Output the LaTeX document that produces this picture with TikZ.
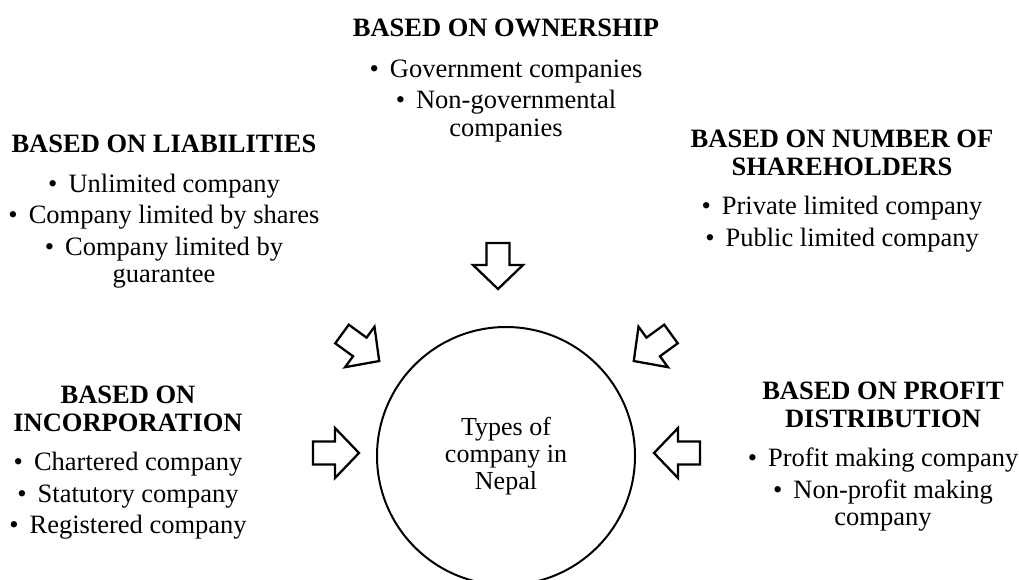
\documentclass[tikz,border=0pt]{standalone}
\usepackage{fontspec}
\setmainfont{Liberation Serif}
\newcommand\itembul{\textbullet\hspace{11pt}}
\begin{document}
\begin{tikzpicture}[x=1pt,y=-1pt]
\tikzset{
  lbl/.style={align=center, inner sep=0pt, anchor=north, font=\fontsize{26.5}{27.5}\selectfont},
  hub/.style={circle, draw, line width=2pt, minimum size=258pt, inner sep=0pt, align=center, font=\fontsize{26}{27}\selectfont},
  fatarrow/.pic={\draw[line width=2.3pt, line join=miter, fill=white] (0,-11.5) -- (22,-11.5) -- (22,-25) -- (46,0) -- (22,25) -- (22,11.5) -- (0,11.5) -- cycle;}
}
\useasboundingbox (0,0) rectangle (1019,579);
\node[hub] (hub) at (506,456) {Types of\\company in\\Nepal};
\node[lbl] (own) at (506,19) {\textbf{BASED ON OWNERSHIP}\\[13pt]\itembul Government companies\\[4pt]\itembul Non-governmental\\companies};
\node[lbl] (lia) at (164,135) {\textbf{BASED ON LIABILITIES}\\[12pt]\itembul Unlimited company\\[4pt]\itembul Company limited by shares\\[4pt]\itembul Company limited by\\guarantee};
\node[lbl] (sha) at (842,130) {\textbf{BASED ON NUMBER OF}\\\textbf{SHAREHOLDERS}\\[12pt]\itembul Private limited company\\[4pt]\itembul Public limited company};
\node[lbl] (inc) at (128,386) {\textbf{BASED ON}\\\textbf{INCORPORATION}\\[12pt]\itembul Chartered company\\[4pt]\itembul Statutory company\\[4pt]\itembul Registered company};
\node[lbl] (pro) at (883,382) {\textbf{BASED ON PROFIT}\\\textbf{DISTRIBUTION}\\[12pt]\itembul Profit making company\\[4pt]\itembul Non-profit making\\company};
\pic[rotate=-90] (adown) at (498,243) {fatarrow};
\pic (aright) at (313,453) {fatarrow};
\pic[rotate=180] (aleft) at (700,453) {fatarrow};
\pic[rotate=-36] (ase) at (342,334) {fatarrow};
\pic[rotate=-144] (asw) at (671,334) {fatarrow};
\end{tikzpicture}
\end{document}
